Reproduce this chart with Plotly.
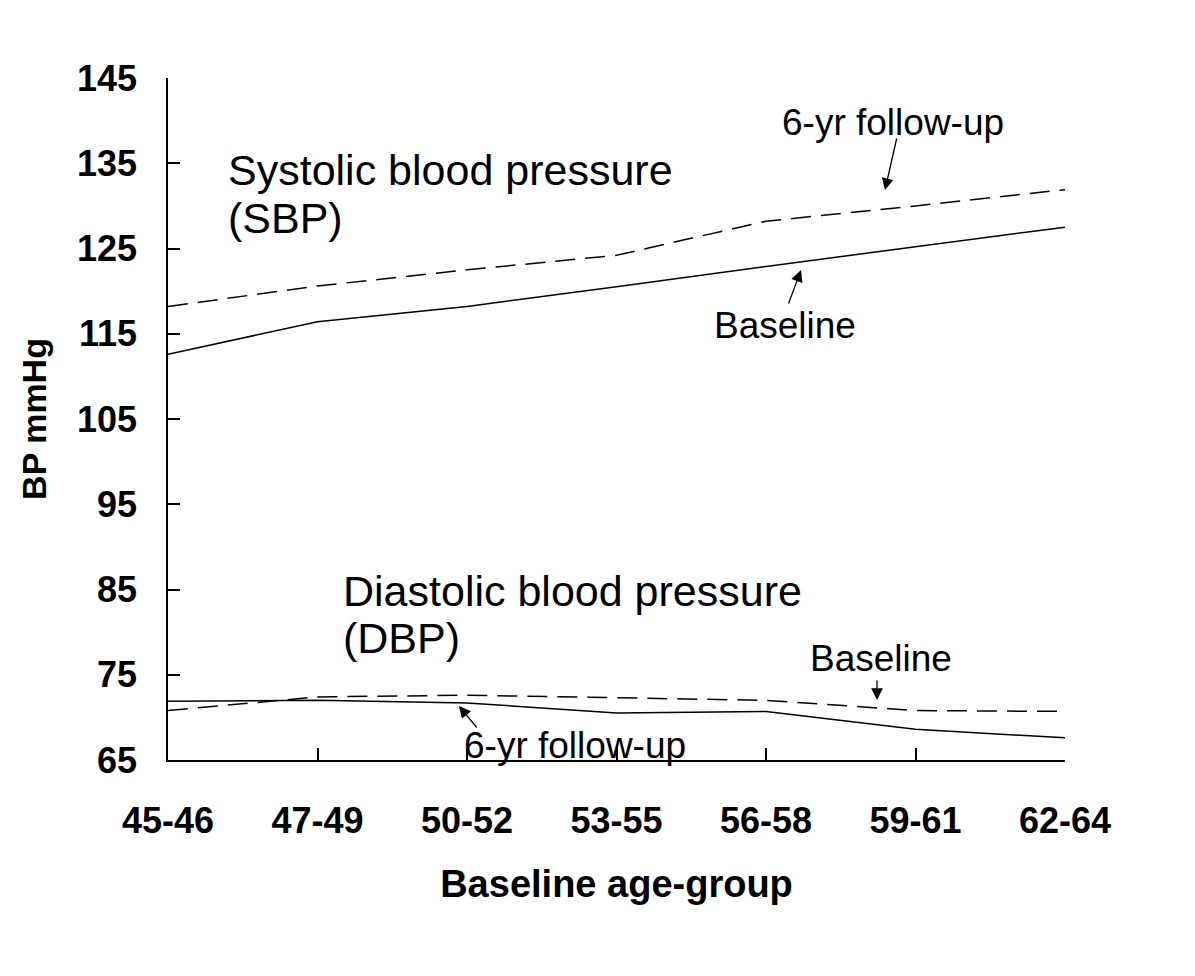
import plotly.graph_objects as go

age_groups = ["45-46", "47-49", "50-52", "53-55", "56-58", "59-61", "62-64"]
sbp_baseline = [112.6, 116.4, 118.2, 120.5, 122.9, 125.2, 127.5]
sbp_followup = [118.2, 120.6, 122.5, 124.2, 128.2, 130.0, 131.9]
dbp_baseline = [70.8, 72.4, 72.6, 72.3, 72.0, 70.8, 70.7]
dbp_followup = [71.9, 72.0, 71.7, 70.5, 70.7, 68.6, 67.6]
y_ticks = [65, 75, 85, 95, 105, 115, 125, 135, 145]

W, H = 1195, 976
# page body has an 8px margin; target plot area on screen is x 168..1065, y 78..760
OFF = 8
X0, X1, Y0, Y1 = 168, 1065, 78, 760
L, R, T, B = X0 - OFF, W - X1 + OFF, Y0 - OFF, H - Y1 + OFF
FONT = "Liberation Sans, Arial, sans-serif"


def px2x(px):
    return (px - X0) / (X1 - X0) * 6


def px2y(py):
    return 65 + (Y1 - py) / (Y1 - Y0) * 80


fig = go.Figure()
line = dict(color="black", width=1.5)
dashed = dict(color="black", width=1.5, dash="20px,10px")
fig.add_trace(go.Scatter(x=age_groups, y=sbp_followup, mode="lines", line=dashed, name="SBP 6-yr follow-up"))
fig.add_trace(go.Scatter(x=age_groups, y=sbp_baseline, mode="lines", line=line, name="SBP baseline"))
fig.add_trace(go.Scatter(x=age_groups, y=dbp_baseline, mode="lines", line=dashed, name="DBP baseline"))
fig.add_trace(go.Scatter(x=age_groups, y=dbp_followup, mode="lines", line=line, name="DBP 6-yr follow-up"))

annotations = []
# big labels
for txt, px, py in [
    ("Systolic blood pressure", 226, 170),
    ("(SBP)", 226, 218),
    ("Diastolic blood pressure", 341, 591),
    ("(DBP)", 341, 638),
]:
    annotations.append(dict(x=px2x(px), y=px2y(py), xref="x", yref="y", text=txt, showarrow=False,
                            xanchor="left", yanchor="middle", align="left",
                            font=dict(family=FONT, size=43, color="black")))
# small labels
for txt, px, py in [
    ("6-yr follow-up", 893, 122),
    ("Baseline", 785, 325),
    ("Baseline", 881, 658),
    ("6-yr follow-up", 575, 745),
]:
    annotations.append(dict(x=px2x(px), y=px2y(py), xref="x", yref="y", text=txt, showarrow=False,
                            xanchor="center", yanchor="middle",
                            font=dict(family=FONT, size=37, color="black")))
# arrows
for (tx, ty), (hx, hy) in [
    ((897, 137), (885, 190)),
    ((788, 305), (801, 270)),
    ((877, 679), (877, 700)),
    ((478, 729), (459, 706)),
]:
    annotations.append(dict(x=px2x(hx), y=px2y(hy), ax=px2x(tx), ay=px2y(ty), xref="x", yref="y",
                            axref="x", ayref="y", text="", showarrow=True, arrowhead=2,
                            arrowsize=1.8, arrowwidth=1.3, arrowcolor="black"))

fig.update_layout(
    width=W, height=H,
    margin=dict(l=L, r=R, t=T, b=B),
    plot_bgcolor="white", paper_bgcolor="white",
    showlegend=False,
    annotations=annotations,
    xaxis=dict(
        type="category", range=[0, 6], showgrid=False, zeroline=False,
        showline=True, linecolor="black", linewidth=1.5,
        ticks="inside", ticklen=12, tickwidth=1.5, tickcolor="black",
        tickfont=dict(family=FONT, size=36, color="black", weight="bold"),
        ticklabelstandoff=28,
        title=dict(text="Baseline age-group", standoff=30,
                   font=dict(family=FONT, size=38, color="black", weight="bold")),
    ),
    yaxis=dict(
        range=[65, 145], tickvals=y_ticks, showgrid=False, zeroline=False,
        showline=True, linecolor="black", linewidth=1.5,
        ticks="inside", ticklen=12, tickwidth=1.5, tickcolor="black",
        tickfont=dict(family=FONT, size=36, color="black", weight="bold"),
        ticklabelstandoff=22,
        title=dict(text="BP mmHg", standoff=20,
                   font=dict(family=FONT, size=34, color="black", weight="bold")),
    ),
)

fig.write_html("out.html")
